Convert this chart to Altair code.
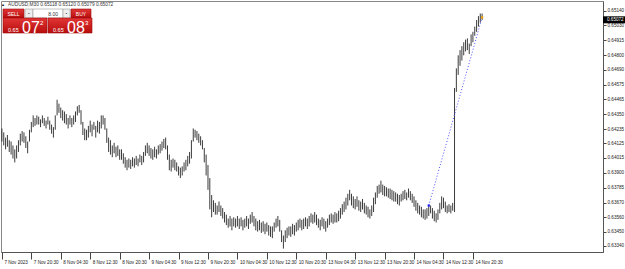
import json
import altair as alt
import pandas as pd

FONT = "Liberation Sans"

# ---- data (AUDUSD M30 bars) ----
HIGH = [
    0.6424, 0.6421, 0.6417, 0.6419, 0.6415, 0.6414, 0.6411, 0.6408, 0.6411, 0.6415,
    0.6420, 0.6422, 0.6421, 0.6418, 0.6414, 0.6423, 0.6429, 0.6434, 0.6432, 0.6434,
    0.6433, 0.6431, 0.6434, 0.6432, 0.6430, 0.6433, 0.6430, 0.6427, 0.6425, 0.6434,
    0.6446, 0.6443, 0.6440, 0.6438, 0.6437, 0.6435, 0.6432, 0.6434, 0.6432, 0.6434,
    0.6437, 0.6441, 0.6442, 0.6438, 0.6429, 0.6424, 0.6423, 0.6426, 0.6430, 0.6427,
    0.6429, 0.6426, 0.6430, 0.6429, 0.6434, 0.6434, 0.6432, 0.6424, 0.6417, 0.6415,
    0.6411, 0.6413, 0.6410, 0.6411, 0.6408, 0.6408, 0.6405, 0.6402, 0.6400, 0.6401,
    0.6400, 0.6402, 0.6401, 0.6403, 0.6401, 0.6404, 0.6403, 0.6406, 0.6411, 0.6413,
    0.6411, 0.6409, 0.6408, 0.6410, 0.6408, 0.6411, 0.6412, 0.6414, 0.6416, 0.6417,
    0.6411, 0.6404, 0.6400, 0.6401, 0.6400, 0.6398, 0.6395, 0.6394, 0.6395, 0.6398,
    0.6400, 0.6403, 0.6406, 0.6415, 0.6424, 0.6423, 0.6422, 0.6420, 0.6418, 0.6415,
    0.6409, 0.6404, 0.6396, 0.6386, 0.6373, 0.6369, 0.6367, 0.6365, 0.6368, 0.6365,
    0.6363, 0.6360, 0.6358, 0.6355, 0.6357, 0.6355, 0.6356, 0.6355, 0.6357, 0.6355,
    0.6356, 0.6354, 0.6355, 0.6357, 0.6355, 0.6358, 0.6360, 0.6357, 0.6355, 0.6353,
    0.6354, 0.6352, 0.6353, 0.6351, 0.6352, 0.6350, 0.6349, 0.6349, 0.6352, 0.6355,
    0.6357, 0.6354, 0.6346, 0.6342, 0.6346, 0.6348, 0.6349, 0.6349, 0.6351, 0.6350,
    0.6352, 0.6354, 0.6355, 0.6354, 0.6355, 0.6356, 0.6355, 0.6357, 0.6359, 0.6358,
    0.6360, 0.6358, 0.6355, 0.6354, 0.6356, 0.6355, 0.6353, 0.6355, 0.6358, 0.6359,
    0.6358, 0.6360, 0.6359, 0.6361, 0.6363, 0.6366, 0.6368, 0.6371, 0.6374, 0.6377,
    0.6374, 0.6372, 0.6370, 0.6372, 0.6369, 0.6368, 0.6370, 0.6367, 0.6365, 0.6364,
    0.6362, 0.6365, 0.6371, 0.6375, 0.6380, 0.6381, 0.6384, 0.6381, 0.6380, 0.6379,
    0.6378, 0.6378, 0.6377, 0.6376, 0.6375, 0.6374, 0.6373, 0.6374, 0.6376, 0.6377,
    0.6375, 0.6378, 0.6376, 0.6374, 0.6372, 0.6369, 0.6367, 0.6365, 0.6364, 0.6362,
    0.6362, 0.6363, 0.6365, 0.6365, 0.6363, 0.6361, 0.6359, 0.6362, 0.6367, 0.6372,
    0.6371, 0.6368, 0.6365, 0.6366, 0.6365, 0.6367, 0.6455, 0.6470, 0.6480, 0.6484,
    0.6487, 0.6490, 0.6492, 0.6493, 0.6489, 0.6496, 0.6498, 0.6502, 0.6507, 0.6510,
    0.6512, 0.65120,
]
LOW = [
    0.6414, 0.6411, 0.6408, 0.6410, 0.6406, 0.6404, 0.6401, 0.6398, 0.6401, 0.6406,
    0.6411, 0.6414, 0.6413, 0.6409, 0.6405, 0.6414, 0.6421, 0.6425, 0.6426, 0.6427,
    0.6427, 0.6425, 0.6428, 0.6426, 0.6424, 0.6427, 0.6423, 0.6420, 0.6417, 0.6423,
    0.6434, 0.6436, 0.6432, 0.6430, 0.6428, 0.6427, 0.6424, 0.6427, 0.6425, 0.6427,
    0.6429, 0.6434, 0.6436, 0.6427, 0.6419, 0.6415, 0.6415, 0.6417, 0.6421, 0.6418,
    0.6423, 0.6417, 0.6421, 0.6420, 0.6424, 0.6427, 0.6423, 0.6413, 0.6406, 0.6404,
    0.6402, 0.6405, 0.6402, 0.6403, 0.6400, 0.6400, 0.6397, 0.6394, 0.6392, 0.6394,
    0.6393, 0.6395, 0.6394, 0.6396, 0.6395, 0.6398, 0.6396, 0.6398, 0.6403, 0.6405,
    0.6403, 0.6401, 0.6400, 0.6402, 0.6401, 0.6404, 0.6405, 0.6407, 0.6409, 0.6408,
    0.6400, 0.6392, 0.6391, 0.6394, 0.6392, 0.6391, 0.6388, 0.6386, 0.6388, 0.6391,
    0.6392, 0.6395, 0.6397, 0.6401, 0.6414, 0.6417, 0.6415, 0.6413, 0.6411, 0.6408,
    0.6398, 0.6388, 0.6377, 0.6362, 0.6356, 0.6360, 0.6358, 0.6358, 0.6360, 0.6357,
    0.6355, 0.6352, 0.6350, 0.6348, 0.6349, 0.6346, 0.6349, 0.6348, 0.6349, 0.6347,
    0.6349, 0.6346, 0.6348, 0.6349, 0.6347, 0.6351, 0.6352, 0.6349, 0.6346, 0.6345,
    0.6346, 0.6344, 0.6345, 0.6343, 0.6345, 0.6342, 0.6341, 0.6340, 0.6345, 0.6348,
    0.6349, 0.6345, 0.6337, 0.6332, 0.6337, 0.6340, 0.6342, 0.6341, 0.6343, 0.6342,
    0.6345, 0.6346, 0.6348, 0.6346, 0.6347, 0.6349, 0.6347, 0.6349, 0.6352, 0.6351,
    0.6352, 0.6350, 0.6348, 0.6346, 0.6349, 0.6347, 0.6345, 0.6348, 0.6350, 0.6352,
    0.6351, 0.6352, 0.6352, 0.6353, 0.6355, 0.6358, 0.6360, 0.6362, 0.6365, 0.6369,
    0.6365, 0.6363, 0.6362, 0.6364, 0.6361, 0.6360, 0.6362, 0.6359, 0.6358, 0.6356,
    0.6355, 0.6357, 0.6360, 0.6366, 0.6371, 0.6374, 0.6375, 0.6373, 0.6372, 0.6372,
    0.6371, 0.6370, 0.6369, 0.6368, 0.6368, 0.6366, 0.6365, 0.6368, 0.6369, 0.6370,
    0.6369, 0.6371, 0.6369, 0.6367, 0.6364, 0.6361, 0.6359, 0.6358, 0.6356, 0.6355,
    0.6354, 0.6355, 0.6357, 0.6359, 0.6355, 0.6353, 0.6352, 0.6354, 0.6359, 0.6362,
    0.6363, 0.6360, 0.6359, 0.6360, 0.6359, 0.6361, 0.6360, 0.6452, 0.6465, 0.6472,
    0.6476, 0.6480, 0.6483, 0.6484, 0.6481, 0.6487, 0.6490, 0.6495, 0.6498, 0.6502,
    0.6505, 0.65072,
]

TREND_BAR = [232, 261]
TREND_PRICE = [0.6365, 0.6509]

LAST_PRICE = 0.65072
Y_TICKS = [0.65140, 0.65030, 0.64915, 0.64800, 0.64690, 0.64575, 0.64465, 0.64350,
           0.64235, 0.64125, 0.64015, 0.63900, 0.63785, 0.63670, 0.63560, 0.63450, 0.63340]
X_TICK_BARS = [0, 16, 32, 48, 64, 80, 96, 112, 128, 144, 160, 176, 192, 208, 224, 240, 256]
X_LABELS = ["7 Nov 2023", "7 Nov 20:30", "8 Nov 04:30", "8 Nov 12:30", "8 Nov 20:30",
            "9 Nov 04:30", "9 Nov 12:30", "9 Nov 20:30", "10 Nov 04:30", "10 Nov 12:30",
            "10 Nov 20:30", "13 Nov 04:30", "13 Nov 12:30", "13 Nov 20:30", "14 Nov 04:30",
            "14 Nov 12:30", "14 Nov 20:30"]
HEADER = "AUDUSD,M30  0.65118 0.65120 0.65079 0.65072"
LOT = "8.00"
BID_BIG, BID_PIP = "07", "2"
ASK_BIG, ASK_PIP = "08", "3"
BASE_PRICE = "0.65"

# ---- chart ----
W, H = 602, 251
bars = pd.DataFrame({"i": list(range(len(HIGH))), "high": HIGH, "low": LOW})
trend = pd.DataFrame({"i": TREND_BAR, "p": TREND_PRICE})
last = pd.DataFrame({"p": [LAST_PRICE], "label": [f"{LAST_PRICE:.5f}"]})

label_map = {str(v): s for v, s in zip(X_TICK_BARS, X_LABELS)}
x_scale = alt.Scale(domain=[-0.49, 326.7], nice=False, zero=False)
y_scale = alt.Scale(domain=[0.63294, 0.65216], nice=False, zero=False)

x_axis = alt.Axis(values=X_TICK_BARS, labelExpr=f"{json.dumps(label_map)}[''+datum.value]",
                  title=None, grid=False, orient="bottom", tickSize=7, tickColor="#444",
                  domainColor="#555", labelAlign="left", labelOffset=2, labelBaseline="middle",
                  labelPadding=3, labelFontSize=4.6, labelFont=FONT, labelColor="#222",
                  labelFlush=False, labelOverlap=False)
y_axis = alt.Axis(values=Y_TICKS, format=".5f", title=None, grid=False, orient="right",
                  tickSize=3, tickColor="#444", domainColor="#555", labelPadding=1,
                  labelFontSize=4.6, labelFont=FONT, labelColor="#222",
                  labelFlush=False, labelOverlap=False)

X = alt.X("i:Q", scale=x_scale, axis=x_axis)

bar_layer = alt.Chart(bars).mark_rule(color="#262626", strokeWidth=0.9).encode(
    x=X, y=alt.Y("low:Q", scale=y_scale, axis=y_axis), y2="high:Q")

trend_layer = alt.Chart(trend).mark_line(color="#5050ff", strokeDash=[1, 2], strokeWidth=1).encode(
    x=X, y=alt.Y("p:Q", scale=y_scale, axis=y_axis))
trend_start = alt.Chart(trend.iloc[[0]]).mark_square(size=5, color="#2020ff", opacity=1).encode(
    x=X, y=alt.Y("p:Q", scale=y_scale, axis=y_axis))
trend_end = alt.Chart(trend.iloc[[1]]).mark_square(size=5, color="#f0a000", opacity=1).encode(
    x=X, y=alt.Y("p:Q", scale=y_scale, axis=y_axis))

price_box = alt.Chart(last).mark_rect(color="#000000", yOffset=-3.5, y2Offset=3.5).encode(
    x=alt.value(W), x2=alt.value(W + 22),
    y=alt.Y("p:Q", scale=y_scale, axis=y_axis), y2="p:Q")
price_txt = alt.Chart(last).mark_text(color="white", fontSize=4.6, font=FONT, align="left",
                                      baseline="middle").encode(
    x=alt.value(W + 4), y=alt.Y("p:Q", scale=y_scale, axis=y_axis), text="label:N")

# ---- one-click trading panel ----
one = pd.DataFrame({"k": [0]})
red_grad = alt.Gradient(gradient="linear", x1=0, x2=0, y1=0, y2=1,
                        stops=[alt.GradientStop(color="#e23636", offset=0),
                               alt.GradientStop(color="#b80d0d", offset=1)])


def rect(x1, y1, x2, y2, fill, stroke=None):
    kw = {"fill": fill}
    if stroke:
        kw.update(stroke=stroke, strokeWidth=0.6)
    return alt.Chart(one).mark_rect(**kw).encode(
        x=alt.value(x1), x2=alt.value(x2), y=alt.value(y1), y2=alt.value(y2))


def txt(x, y, s, size, color, align="left", baseline="alphabetic"):
    return alt.Chart(one).mark_text(text=s, fontSize=size, color=color, align=align,
                                    baseline=baseline, font=FONT).encode(
        x=alt.value(x), y=alt.value(y))


panel = [
    txt(2, 4, "\u25b2", 4, "#222", align="center", baseline="middle"),
    txt(7, 4, HEADER, 4.8, "#333", baseline="middle"),
    rect(2, 8, 23, 17, red_grad, "#9a0a0a"),
    rect(24, 8, 32, 17, "#eeeeee", "#9a9a9a"),
    rect(32, 8, 62, 17, "#ffffff", "#9a9a9a"),
    rect(62, 8, 69, 17, "#eeeeee", "#9a9a9a"),
    rect(70, 8, 90, 17, red_grad, "#9a0a0a"),
    rect(2, 17, 46, 32, red_grad, "#9a0a0a"),
    rect(47, 17, 91, 32, red_grad, "#9a0a0a"),
    txt(12.5, 12.7, "SELL", 5, "white", align="center", baseline="middle"),
    txt(80, 12.7, "BUY", 5, "white", align="center", baseline="middle"),
    txt(28, 12.5, "\u25aa", 4, "#333", align="center", baseline="middle"),
    txt(65.5, 12.5, "\u25aa", 4, "#333", align="center", baseline="middle"),
    txt(57, 12.7, LOT, 5, "#333", align="right", baseline="middle"),
    txt(7, 30.5, BASE_PRICE, 5.5, "white"),
    txt(21, 31.5, BID_BIG, 16, "white"),
    txt(39, 24, BID_PIP, 6, "white"),
    txt(52, 30.5, BASE_PRICE, 5.5, "white"),
    txt(66, 31.5, ASK_BIG, 16, "white"),
    txt(84, 24, ASK_PIP, 6, "white"),
]

chart = alt.layer(bar_layer, trend_layer, trend_start, trend_end, price_box, price_txt, *panel).properties(
    width=W, height=H,
    padding={"left": 1, "top": 1, "right": 22, "bottom": 17},
    autosize=alt.AutoSizeParams(type="none"),
    background="white",
).configure_view(stroke="#888888", strokeWidth=1)

chart.save("out.html", embed_options={"renderer": "svg", "actions": False})
